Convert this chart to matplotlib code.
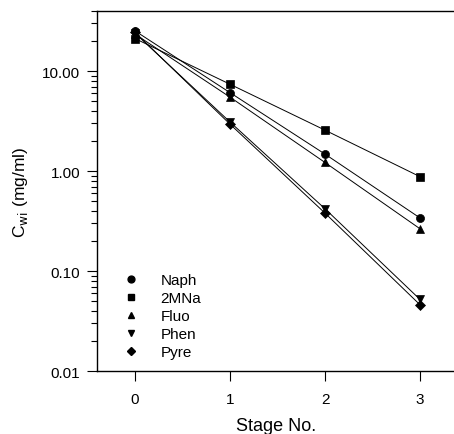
import matplotlib
matplotlib.use("Agg")
import matplotlib.pyplot as plt
from matplotlib.lines import Line2D
from matplotlib.ticker import LogLocator, FixedLocator, NullFormatter

plt.rcParams["font.family"] = ["Liberation Sans", "DejaVu Sans"]

stages = [0, 1, 2, 3]
naph = [25.3, 6.1, 1.48, 0.34]
mna2 = [21.2, 7.4, 2.57, 0.88]
fluo = [23.5, 5.5, 1.22, 0.265]
phen = [24.0, 3.1, 0.42, 0.052]
pyre = [24.5, 2.95, 0.38, 0.046]

names = ["Naph", "2MNa", "Fluo", "Phen", "Pyre"]
series = [naph, mna2, fluo, phen, pyre]
markers = ["o", "s", "^", "v", "D"]
msizes = [5.8, 5.2, 5.8, 5.8, 4.8]

fig = plt.figure(figsize=(4.54, 4.35), dpi=100)
ax = fig.add_axes([0.2137, 0.1448, 0.79, 0.8276])

for vals, m, ms in zip(series, markers, msizes):
    ax.plot(stages, vals, color="black", lw=0.7, marker=m, ms=ms,
            markeredgewidth=0.5)

ax.set_yscale("log")
ax.set_ylim(0.01, 40)
ax.set_xlim(-0.4, -0.4 + 357 / 95 * 0.79 / 0.7863)
ax.yaxis.set_major_locator(FixedLocator([0.01, 0.1, 1, 10]))
ax.set_yticklabels(["0.01", "0.10", "1.00", "10.00"])
ax.yaxis.set_minor_locator(LogLocator(base=10, subs=range(2, 10)))
ax.yaxis.set_minor_formatter(NullFormatter())
ax.set_xticks(stages)

ax.spines["right"].set_visible(False)
for s in ["left", "bottom", "top"]:
    ax.spines[s].set_linewidth(1.0)
ax.tick_params(axis="both", which="major", direction="out", labelsize=11,
               length=7, width=0.8, top=False, right=False)
ax.tick_params(axis="y", which="minor", direction="out", length=4, width=0.8)
ax.tick_params(axis="x", pad=8)
ax.tick_params(axis="y", pad=5)

ax.set_xlabel("Stage No.", fontsize=13, labelpad=8)
ax.set_ylabel(r"C$_{\mathrm{wi}}$ (mg/ml)", fontsize=12.5, labelpad=9)

handles = [Line2D([], [], color="black", marker=m, ls="none", ms=ms * 0.85)
           for m, ms in zip(markers, msizes)]
ax.legend(handles, names, loc="upper left", bbox_to_anchor=(0.2555, 0.3876),
          bbox_transform=fig.transFigure, frameon=False, fontsize=11,
          handlelength=1.0, handletextpad=1.4, labelspacing=0.26,
          borderpad=0)

fig.savefig("out.png", dpi=100)
